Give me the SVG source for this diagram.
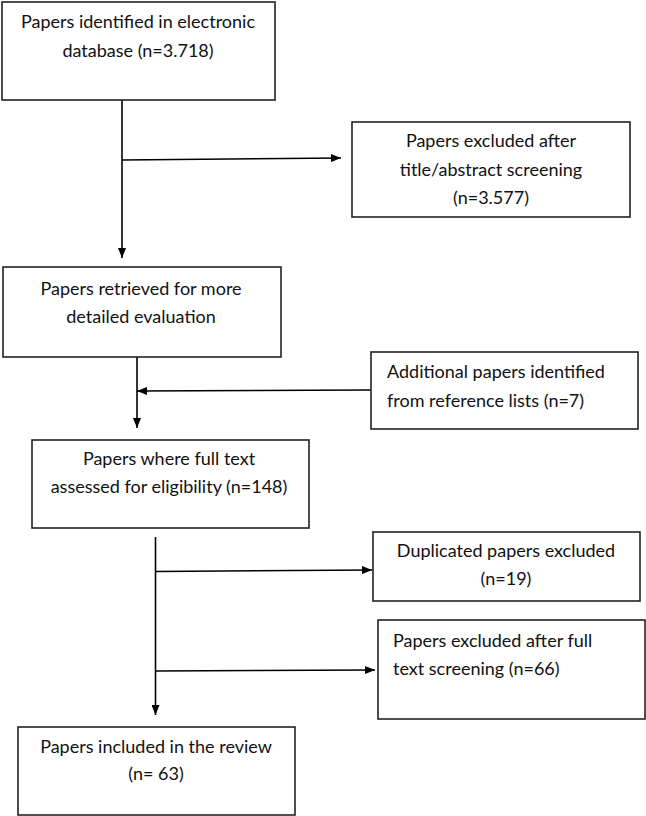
<svg xmlns="http://www.w3.org/2000/svg" width="646" height="816" viewBox="0 0 646 816">
<defs>
<marker id="ah" markerWidth="10" markerHeight="8" refX="10" refY="4" orient="auto" markerUnits="userSpaceOnUse">
<path d="M0,0 L10,4 L0,8 Z" fill="#000"/>
</marker>
<style>
.box{fill:#fff;stroke:#222;stroke-width:1.6}
.t{font-family:Lato,"Open Sans","Liberation Sans",sans-serif;font-size:18px;fill:#111}
.c{text-anchor:middle}
.ln{stroke:#000;stroke-width:1.6;fill:none}
</style>
</defs>
<rect width="646" height="816" fill="#fff"/>
<g id="connectors">
<line class="ln" x1="122" y1="100" x2="122" y2="258" marker-end="url(#ah)"/>
<line class="ln" x1="122" y1="160" x2="341" y2="158" marker-end="url(#ah)"/>
<line class="ln" x1="137" y1="357" x2="137" y2="428" marker-end="url(#ah)"/>
<line class="ln" x1="371" y1="390" x2="137" y2="391" marker-end="url(#ah)"/>
<line class="ln" x1="155.5" y1="537" x2="155.5" y2="715" marker-end="url(#ah)"/>
<line class="ln" x1="155.5" y1="571.5" x2="372" y2="570" marker-end="url(#ah)"/>
<line class="ln" x1="155.5" y1="671" x2="375" y2="670" marker-end="url(#ah)"/>
</g>
<g id="n1">
<rect class="box" x="2" y="2" width="273" height="98"/>
<text class="t c" x="138" y="28">Papers identified in electronic</text>
<text class="t c" x="138" y="57">database (n=3.718)</text>
</g>
<g id="n2">
<rect class="box" x="352" y="122" width="278" height="95"/>
<text class="t c" x="491" y="147">Papers excluded after</text>
<text class="t c" x="491" y="176">title/abstract screening</text>
<text class="t c" x="491" y="204">(n=3.577)</text>
</g>
<g id="n3">
<rect class="box" x="3" y="267" width="278" height="90"/>
<text class="t c" x="141" y="295">Papers retrieved for more</text>
<text class="t c" x="141" y="323">detailed evaluation</text>
</g>
<g id="n4">
<rect class="box" x="371" y="352" width="267" height="77"/>
<text class="t" x="387" y="378">Additional papers identified</text>
<text class="t" x="387" y="407">from reference lists (n=7)</text>
</g>
<g id="n5">
<rect class="box" x="32" y="440" width="277" height="88"/>
<text class="t c" x="169" y="465">Papers where full text</text>
<text class="t c" x="169" y="493">assessed for eligibility (n=148)</text>
</g>
<g id="n6">
<rect class="box" x="373" y="532" width="267" height="69"/>
<text class="t c" x="506" y="557">Duplicated papers excluded</text>
<text class="t c" x="506" y="585">(n=19)</text>
</g>
<g id="n7">
<rect class="box" x="378" y="620" width="267" height="99"/>
<text class="t" x="393" y="647">Papers excluded after full</text>
<text class="t" x="393" y="675">text screening (n=66)</text>
</g>
<g id="n8">
<rect class="box" x="18" y="727" width="277" height="88"/>
<text class="t c" x="156" y="753">Papers included in the review</text>
<text class="t c" x="156" y="780">(n= 63)</text>
</g>
</svg>
